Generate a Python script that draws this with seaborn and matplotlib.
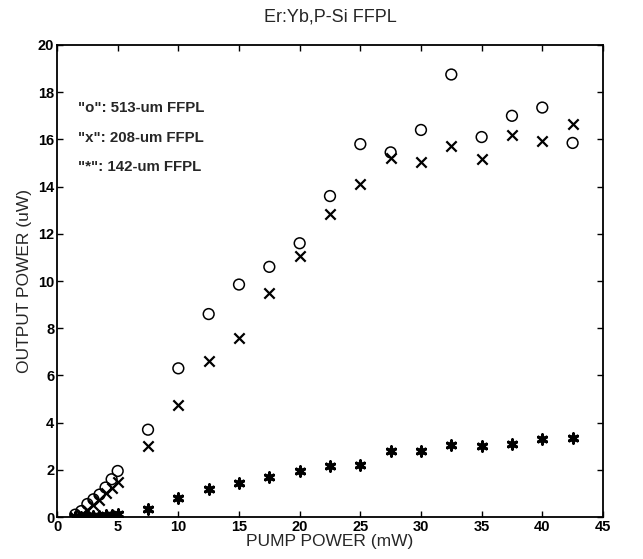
import matplotlib
matplotlib.use("Agg")
import matplotlib.pyplot as plt
import seaborn as sns
import pandas as pd

# ---- data ----
pump_low = [1.5, 2.0, 2.5, 3.0, 3.5, 4.0, 4.5, 5.0]
pump_high = [7.5, 10, 12.5, 15, 17.5, 20, 22.5, 25, 27.5, 30, 32.5, 35, 37.5, 40, 42.5]

out_513_low = [0.1, 0.25, 0.55, 0.75, 0.95, 1.25, 1.6, 1.95]
out_513_high = [3.7, 6.3, 8.6, 9.85, 10.6, 11.6, 13.6, 15.8, 15.45, 16.4, 18.75, 16.1, 17.0, 17.35, 15.85]

out_208_low = [0.0, 0.1, 0.3, 0.5, 0.7, 1.0, 1.25, 1.5]
out_208_high = [3.0, 4.75, 6.6, 7.6, 9.5, 11.05, 12.85, 14.1, 15.2, 15.05, 15.7, 15.15, 16.2, 15.95, 16.65]

out_142_low = [0.0, 0.02, 0.03, 0.05, 0.05, 0.08, 0.1, 0.12]
out_142_high = [0.35, 0.8, 1.2, 1.45, 1.7, 1.95, 2.15, 2.2, 2.8, 2.8, 3.05, 3.0, 3.1, 3.3, 3.35]

legend_lines = ['"o": 513-um FFPL', '"x": 208-um FFPL', '"*": 142-um FFPL']
x_ticks = [0, 5, 10, 15, 20, 25, 30, 35, 40, 45]
y_ticks = [0, 2, 4, 6, 8, 10, 12, 14, 16, 18, 20]

pump = pump_low + pump_high
df513 = pd.DataFrame({"pump": pump, "out": out_513_low + out_513_high})
df208 = pd.DataFrame({"pump": pump, "out": out_208_low + out_208_high})
df142 = pd.DataFrame({"pump": pump, "out": out_142_low + out_142_high})

sns.set_theme(style="ticks")
plt.rcParams['font.family'] = ['Liberation Sans', 'DejaVu Sans']

fig = plt.figure(figsize=(6.43, 5.59), dpi=100)
ax = fig.add_axes([0.0887, 0.0751, 0.849, 0.8444])

sns.scatterplot(data=df513, x="pump", y="out", marker="o", s=60, ax=ax,
                color="black", linewidth=1.1)
pts = ax.collections[-1]
pts.set_facecolor("none")
pts.set_edgecolor("black")

sns.scatterplot(data=df208, x="pump", y="out", marker="x", s=55, ax=ax,
                color="black", linewidth=1.6)
sns.scatterplot(data=df142, x="pump", y="out", marker=(6, 2, 0), s=45, ax=ax,
                color="black", linewidth=2.2)

ax.set_xlim(0, 45)
ax.set_ylim(0, 20)
ax.set_xticks(x_ticks)
ax.set_yticks(y_ticks)
ax.set_xticklabels([str(t) for t in x_ticks], fontweight="bold", fontsize=10.5)
ax.set_yticklabels([str(t) for t in y_ticks], fontweight="bold", fontsize=10.5)
ax.tick_params(direction="in", top=True, right=True, length=4, width=1, pad=2, colors="black")
for sp in ax.spines.values():
    sp.set_linewidth(1.3)
    sp.set_color("black")

ax.set_xlabel("PUMP POWER (mW)", fontsize=12.5, labelpad=0)
ax.set_ylabel("OUTPUT POWER (uW)", fontsize=12.5, labelpad=4)
ax.set_title("Er:Yb,P-Si FFPL", fontsize=13, pad=17)

for i, txt in enumerate(legend_lines):
    ax.text(0.038, 0.8665 - i * 0.0625, txt, transform=ax.transAxes,
            fontsize=10.8, fontweight="bold", va="center", ha="left")

fig.savefig("out.png", dpi=100)
